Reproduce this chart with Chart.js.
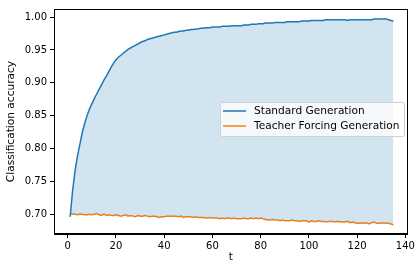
<!DOCTYPE html>
<html><head><meta charset="utf-8">
<script src="https://cdn.jsdelivr.net/npm/chart.js@4/dist/chart.umd.min.js"></script>
<style>html,body{margin:0;padding:0;background:#fff}#wrap{width:417px;height:264px}</style>
</head><body><div id="wrap"><canvas id="c" width="417" height="264"></canvas></div>
<script>
const seriesLabels = ["Standard Generation", "Teacher Forcing Generation"];
const standard = [
0.696,0.735,0.765,0.788,0.806,0.824,0.838,0.850,0.860,0.868,
0.876,0.883,0.890,0.897,0.904,0.910,0.917,0.924,0.930,0.935,
0.939,0.942,0.945,0.948,0.951,0.953,0.955,0.957,0.959,0.961,
0.963,0.964,0.966,0.967,0.968,0.969,0.970,0.971,0.972,0.973,
0.974,0.975,0.976,0.977,0.977,0.978,0.979,0.979,0.980,0.980,
0.981,0.981,0.982,0.982,0.983,0.983,0.984,0.984,0.984,0.985,
0.985,0.985,0.985,0.986,0.986,0.986,0.986,0.987,0.987,0.987,
0.987,0.987,0.988,0.988,0.988,0.989,0.989,0.989,0.990,0.990,
0.990,0.991,0.991,0.991,0.991,0.992,0.992,0.992,0.992,0.992,
0.993,0.993,0.993,0.993,0.993,0.993,0.994,0.994,0.994,0.994,
0.995,0.995,0.995,0.995,0.995,0.995,0.996,0.996,0.996,0.996,
0.996,0.996,0.996,0.996,0.996,0.995,0.996,0.996,0.996,0.996,
0.996,0.996,0.996,0.996,0.996,0.996,0.997,0.997,0.997,0.997,
0.997,0.997,0.996,0.995,0.994];
const teacher = [
0.701,0.700,0.700,0.699,0.700,0.700,0.699,0.699,0.700,0.699,
0.700,0.701,0.699,0.698,0.700,0.698,0.699,0.698,0.698,0.699,
0.698,0.697,0.698,0.699,0.697,0.698,0.697,0.696,0.698,0.697,
0.697,0.698,0.697,0.696,0.697,0.697,0.696,0.695,0.696,0.696,
0.697,0.697,0.697,0.697,0.697,0.696,0.697,0.695,0.696,0.696,
0.696,0.695,0.696,0.695,0.695,0.695,0.694,0.694,0.695,0.694,
0.694,0.694,0.693,0.694,0.693,0.694,0.694,0.693,0.694,0.693,
0.693,0.693,0.694,0.693,0.693,0.694,0.693,0.694,0.693,0.694,
0.693,0.692,0.691,0.691,0.692,0.691,0.691,0.690,0.691,0.690,
0.690,0.690,0.691,0.690,0.690,0.689,0.690,0.690,0.690,0.688,
0.690,0.689,0.689,0.690,0.689,0.689,0.688,0.689,0.689,0.689,
0.688,0.689,0.688,0.688,0.688,0.689,0.687,0.688,0.687,0.686,
0.686,0.687,0.686,0.687,0.685,0.687,0.688,0.686,0.686,0.686,
0.687,0.686,0.686,0.685,0.684];
const tValues = standard.map((_, i) => i + 1);
const xTicks = [0, 20, 40, 60, 80, 100, 120, 140];
const yTicks = [0.70, 0.75, 0.80, 0.85, 0.90, 0.95, 1.00];
const xTitle = "t";
const yTitle = "Classification accuracy";

const FONT = "'DejaVu Sans', sans-serif";
const colors = ["#1f77b4", "#ff7f0e"];

const framePlugin = {
  id: 'frame',
  afterDatasetsDraw(chart) {
    const {ctx, chartArea: a} = chart;
    ctx.save();
    ctx.strokeStyle = '#000';
    ctx.lineWidth = 1;
    ctx.strokeRect(Math.round(a.left) + 0.5, Math.round(a.top) + 0.5, Math.round(a.right - a.left) - 1, Math.round(a.bottom - a.top) - 1);
    // legend
    const bx = 220, by = 102, bw = 184, bh = 34;
    ctx.fillStyle = 'rgba(255,255,255,0.8)';
    ctx.strokeStyle = '#d0d0d0';
    ctx.lineWidth = 1;
    ctx.beginPath();
    if (ctx.roundRect) ctx.roundRect(bx + 0.5, by + 0.5, bw, bh, 2); else ctx.rect(bx + 0.5, by + 0.5, bw, bh);
    ctx.fill(); ctx.stroke();
    ctx.font = "10.6px " + FONT;
    ctx.textBaseline = 'middle';
    ctx.textAlign = 'left';
    seriesLabels.forEach((lab, i) => {
      const y = by + 9 + i * 15;
      ctx.strokeStyle = colors[i];
      ctx.lineWidth = 1.5;
      ctx.beginPath(); ctx.moveTo(bx + 3, y); ctx.lineTo(bx + 26, y); ctx.stroke();
      ctx.fillStyle = '#000';
      ctx.fillText(lab, bx + 34, y + 0.5);
    });
    ctx.restore();
  }
};

new Chart(document.getElementById('c'), {
  type: 'line',
  data: {
    datasets: [
      { label: seriesLabels[0], data: tValues.map((t, i) => ({x: t, y: standard[i]})),
        borderColor: colors[0], borderWidth: 1.5, pointRadius: 0, tension: 0,
        fill: '+1', backgroundColor: 'rgba(31,119,180,0.2)' },
      { label: seriesLabels[1], data: tValues.map((t, i) => ({x: t, y: teacher[i]})),
        borderColor: colors[1], borderWidth: 1.5, pointRadius: 0, tension: 0, fill: false }
    ]
  },
  options: {
    responsive: false, animation: false, devicePixelRatio: 1,
    layout: { padding: { top: 4, right: 8, left: 5, bottom: 0 } },
    plugins: { legend: { display: false }, tooltip: { enabled: false } },
    scales: {
      x: {
        type: 'linear', min: -5.7, max: 141.0,
        afterBuildTicks: s => { s.ticks = xTicks.map(v => ({value: v})); },
        afterFit: s => { s.height = 30; },
        ticks: { color: '#000', font: { family: FONT, size: 10 }, padding: 2, maxRotation: 0, callback: v => String(v) },
        grid: { display: true, drawOnChartArea: false, drawTicks: true, tickLength: 4, color: '#000' },
        border: { display: true, color: '#000', width: 1 },
        title: { display: true, text: xTitle, color: '#000', font: { family: FONT, size: 10.6 }, padding: { top: 0, bottom: 0 } }
      },
      y: {
        type: 'linear', min: 0.6698, max: 1.0124,
        afterBuildTicks: s => { s.ticks = yTicks.map(v => ({value: v})); },
        afterFit: s => { s.width = 49; },
        ticks: { color: '#000', font: { family: FONT, size: 10 }, padding: 3, callback: v => Number(v).toFixed(2) },
        grid: { display: true, drawOnChartArea: false, drawTicks: true, tickLength: 4, color: '#000' },
        border: { display: true, color: '#000', width: 1 },
        title: { display: true, text: yTitle, color: '#000', font: { family: FONT, size: 10.6 }, padding: { top: 0, bottom: 2 } }
      }
    }
  },
  plugins: [framePlugin]
});
</script>
</body></html>
